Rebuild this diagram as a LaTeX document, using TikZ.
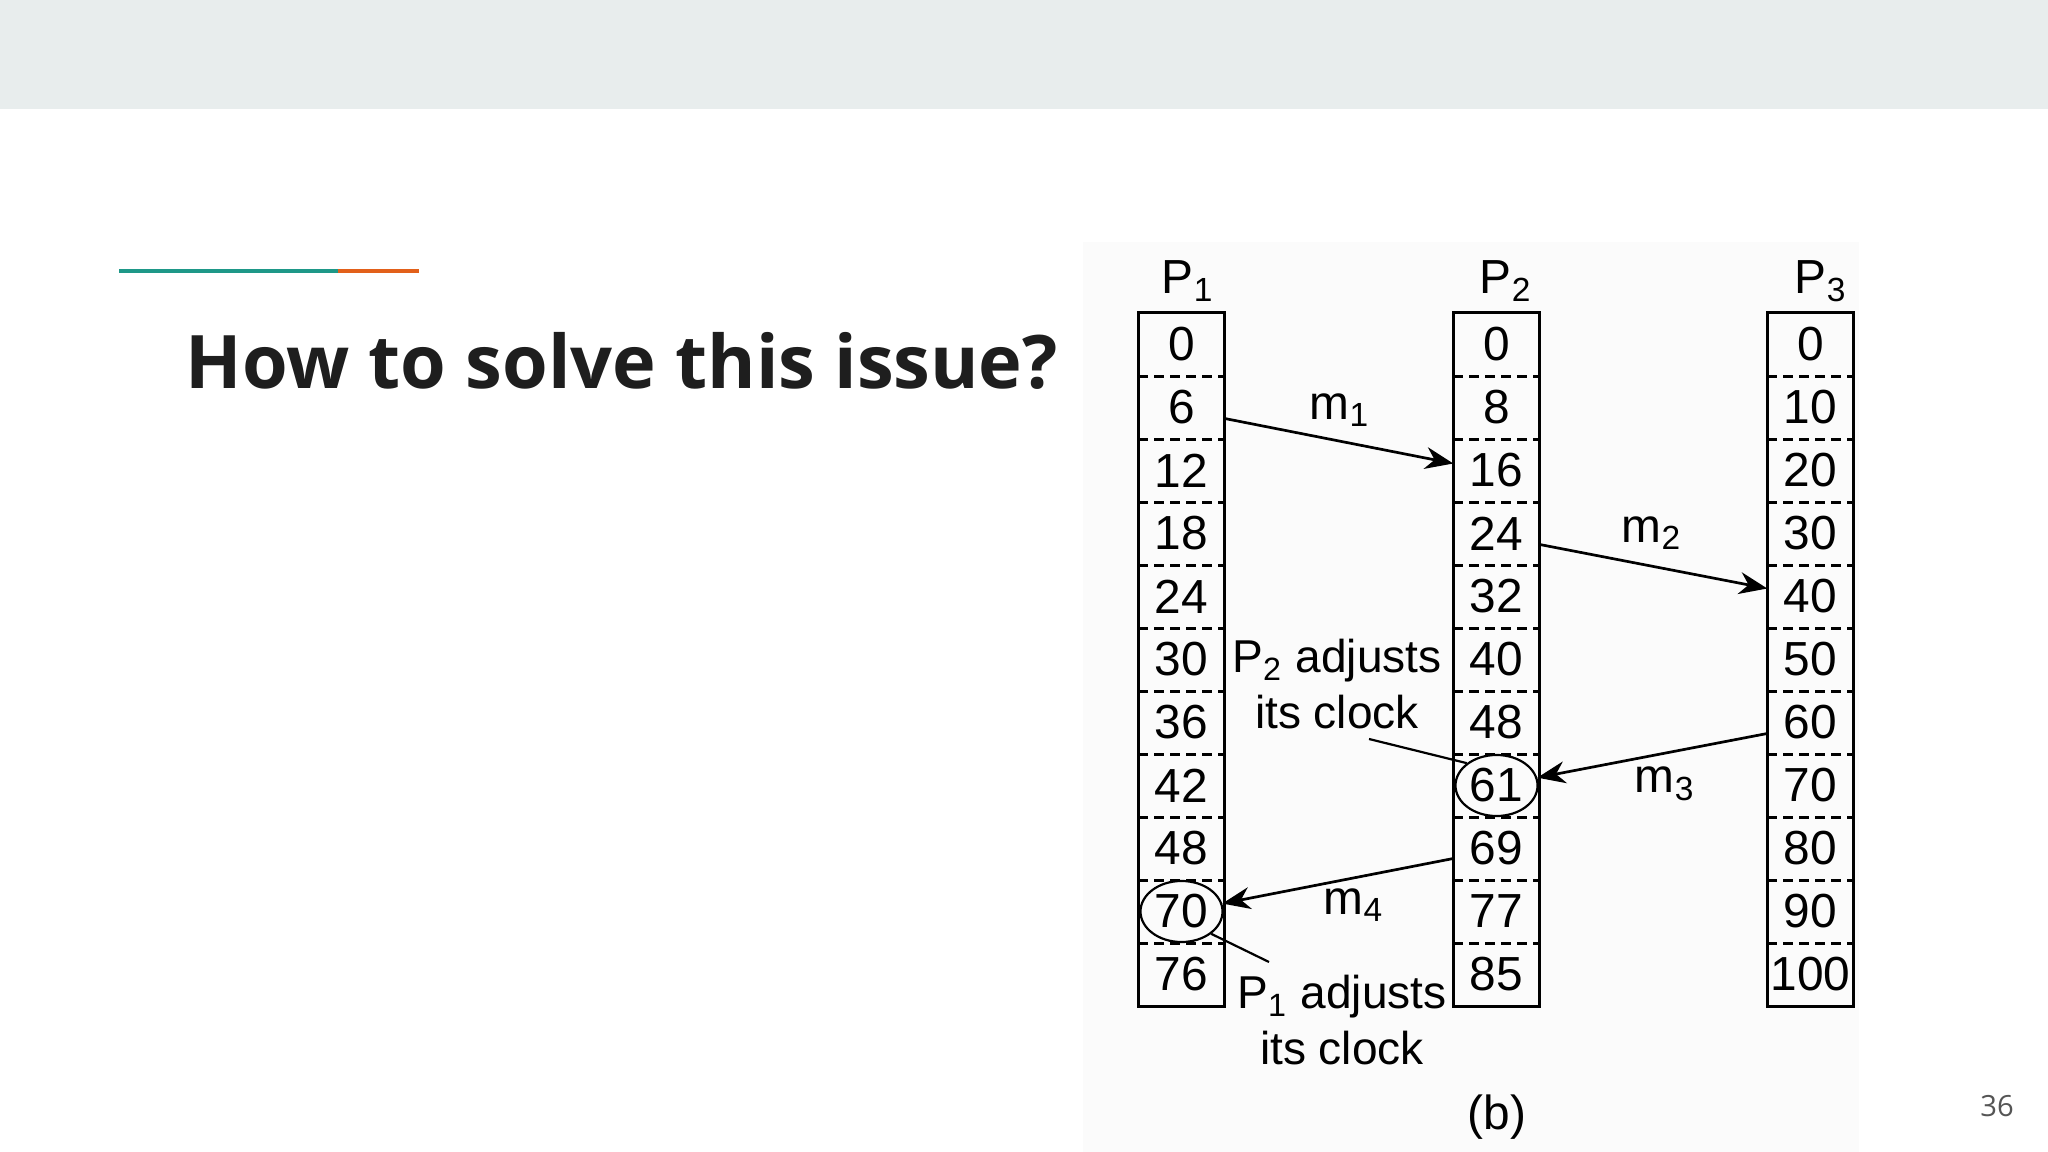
\documentclass[tikz,border=0pt]{standalone}
\usepackage{fontspec}
\setmainfont{Liberation Sans}
\newfontfamily\slidefont{Open Sans}
\usetikzlibrary{arrows.meta, positioning, shapes.geometric, calc}

\definecolor{bandcol}{HTML}{E8EDED}
\definecolor{panelcol}{HTML}{FBFBFB}
\definecolor{accteal}{HTML}{1E9888}
\definecolor{accorange}{HTML}{E2601A}
\definecolor{titlecol}{HTML}{1E1E1E}
\definecolor{pagecol}{HTML}{555555}

\tikzset{
  txt/.style={inner sep=0pt, font=\fontsize{13.6}{15.9}\selectfont},
  note/.style={inner sep=0pt, align=center, font=\fontsize{13.1}{15.9}\selectfont},
  cell/.style={txt, minimum width=0.85cm, minimum height=0.63cm},
  colbox/.style={draw, line width=0.3mm},
  sep/.style={draw, line width=0.28mm, dash pattern=on 1mm off 0.6mm},
  stamp/.style={ellipse, draw, line width=0.22mm, minimum width=0.82cm, minimum height=0.61cm, inner sep=0pt},
  msg/.style={line width=0.27mm, -{Stealth[length=2.8mm, width=2.2mm, inset=0.9mm]}},
  pointer/.style={line width=0.22mm}
}

\begin{document}
\begin{tikzpicture}[x=0.01cm, y=-0.01cm]
\useasboundingbox (0,0) rectangle (2048,1152);
\fill[white] (0,0) rectangle (2048,1152);
\fill[bandcol] (0,0) rectangle (2048,109);
\fill[panelcol] (1083,242) rectangle (1859,1152);
\draw[accteal, line width=0.4mm] (119,271) -- (338,271);
\draw[accorange, line width=0.4mm] (338,271) -- (419,271);

\node[anchor=base west, inner sep=0pt, text=titlecol, font=\slidefont\bfseries\fontsize{21}{25}\selectfont](title) at (185,389) {How to solve this issue?};
\node[text=pagecol, font=\slidefont\fontsize{8.3}{10}\selectfont](page) at (1997,1106) {36};

% clock columns
\foreach \v [count=\i from 0] in {0,6,12,18,24,30,36,42,48,70,76}
  \node[cell](A\i) at (1181.5,{344.5+63*\i}) {\v};
\foreach \v [count=\i from 0] in {0,8,16,24,32,40,48,61,69,77,85}
  \node[cell](B\i) at (1496.5,{344.5+63*\i}) {\v};
\foreach \v [count=\i from 0] in {0,10,20,30,40,50,60,70,80,90,100}
  \node[cell](C\i) at (1810.5,{344.5+63*\i}) {\v};

\foreach \c in {A,B,C}{
  \draw[colbox] (\c0.north west) rectangle (\c10.south east);
  \foreach \i in {0,...,9}
    \draw[sep] (\c\i.south west) -- (\c\i.south east);
}

\node[txt](P1) at (1188,281) {P\textsubscript{1}};
\node[txt](P2) at (1506,281) {P\textsubscript{2}};
\node[txt](P3) at (1821,281) {P\textsubscript{3}};

\node[stamp](E61) at (B7) {};
\node[stamp](E70) at (A9) {};

% messages
\draw[msg] ($(A1.east)+(0,11)$) -- ($(B2.west)+(0,-7)$);
\draw[msg] ($(B3.east)+(0,11)$) -- ($(C4.west)+(0,-8)$);
\draw[msg] ($(C6.west)+(0,11)$) -- (E61);
\draw[msg] ($(B8.west)+(0,10)$) -- (E70);

\node[txt](m1) at (1340,410) {m\textsubscript{1}};
\node[txt](m2) at (1652,533) {m\textsubscript{2}};
\node[txt](m3) at (1665,784) {m\textsubscript{3}};
\node[txt](m4) at (1354,905) {m\textsubscript{4}};

\node[note](adj2) at (1337,684) {P\textsubscript{2} adjusts\\its clock};
\node[note](adj1) at (1342,1020) {P\textsubscript{1} adjusts\\its clock};
\coordinate (t2) at (1369,739);
\coordinate (t1) at (1269,962);
\draw[pointer] (t2) -- (E61.north west);
\draw[pointer] (E70.south east) -- (t1);

\node[txt](cap) at (1497,1117) {(b)};
\end{tikzpicture}
\end{document}
